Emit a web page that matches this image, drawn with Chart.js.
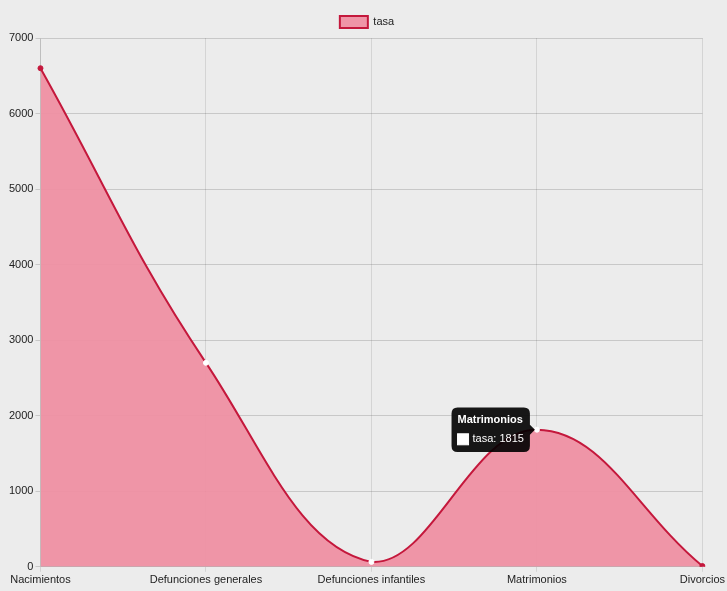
<!DOCTYPE html>
<html>
<head>
<meta charset="utf-8">
<script src="https://cdn.jsdelivr.net/npm/chart.js@4/dist/chart.umd.min.js"></script>
<style>
  html, body { margin: 0; padding: 0; background: #ececec; }
  #wrap { width: 727px; height: 591px; }
</style>
</head>
<body>
<div id="wrap"><canvas id="chart"></canvas></div>
<script>
// datos de la tasa
const categorias = ["Nacimientos", "Defunciones generales", "Defunciones infantiles", "Matrimonios", "Divorcios"];
const tasa = [6600, 2700, 65, 1815, 10];
const ticksY = [0, 1000, 2000, 3000, 4000, 5000, 6000, 7000];

Chart.defaults.font.family = "'Liberation Sans', Arial, sans-serif";
Chart.defaults.font.size = 11;
Chart.defaults.color = "#222";

const ctx = document.getElementById("chart");
const chart = new Chart(ctx, {
  type: "line",
  data: {
    labels: categorias,
    datasets: [{
      label: "tasa",
      data: tasa,
      fill: true,
      tension: 0.4,
      borderWidth: 2,
      borderColor: "rgb(196, 24, 60)",
      backgroundColor: "rgba(240, 140, 160, 0.9)",
      pointRadius: 2.5,
      pointBorderWidth: 1,
      pointBackgroundColor: ["rgb(196,24,60)", "#fff", "#fff", "#fff", "rgb(196,24,60)"],
      pointBorderColor: ["rgb(196,24,60)", "#fff", "#fff", "#fff", "rgb(196,24,60)"],
    }]
  },
  options: {
    responsive: true,
    maintainAspectRatio: false,
    animation: false,
    layout: { padding: { top: 6, right: 0, bottom: 2, left: 7 } },
    plugins: {
      legend: {
        labels: { boxWidth: 28, boxHeight: 12, color: "#222" }
      },
      tooltip: {
        xAlign: "right",
        yAlign: "center",
        backgroundColor: "rgba(0,0,0,0.9)",
        titleFont: { weight: "bold", size: 11 },
        bodyFont: { size: 11 },
        padding: 6,
        cornerRadius: 6,
        caretSize: 5,
        boxPadding: 2,
        callbacks: {
          label: (c) => c.dataset.label + ": " + c.raw
        }
      }
    },
    scales: {
      x: {
        grid: { color: "rgba(0,0,0,0.1)", tickLength: 5 },
        ticks: { color: "#222", maxRotation: 0, padding: 2 }
      },
      y: {
        min: 0,
        max: 7000,
        afterBuildTicks: (axis) => { axis.ticks = ticksY.map(v => ({ value: v })); },
        grid: { color: "rgba(0,0,0,0.15)", tickLength: 5 },
        ticks: { color: "#222", padding: 2, callback: (v) => String(v) }
      }
    }
  }
});

const pt = chart.getDatasetMeta(0).data[3];
chart.tooltip.setActiveElements([{ datasetIndex: 0, index: 3 }], { x: pt.x, y: pt.y });
chart.update();
</script>
</body>
</html>
